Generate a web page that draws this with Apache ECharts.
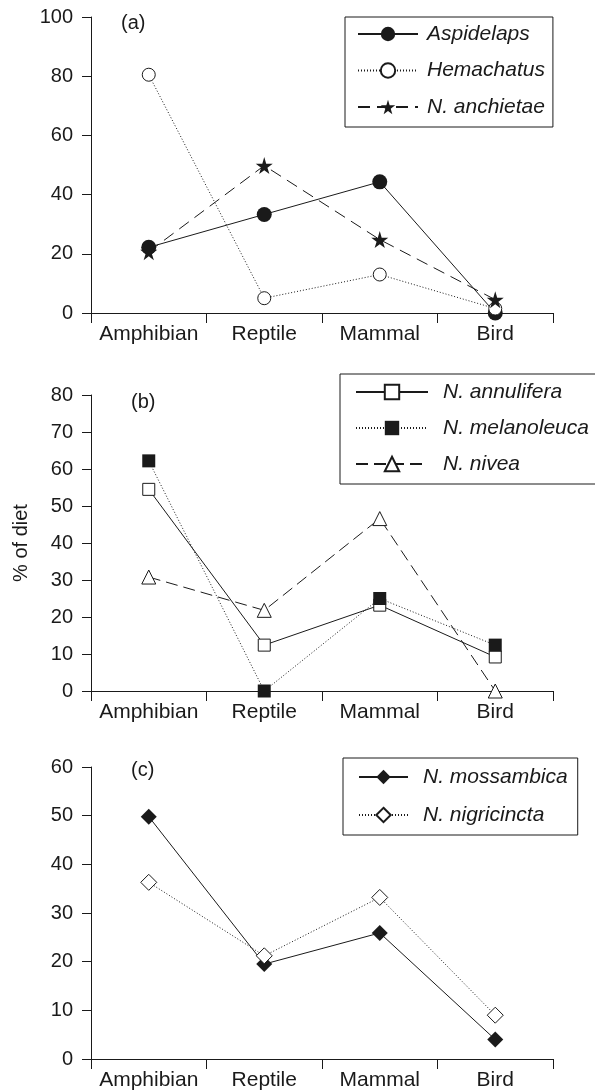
<!DOCTYPE html>
<html>
<head>
<meta charset="utf-8">
<script src="https://cdn.jsdelivr.net/npm/echarts@6/dist/echarts.min.js"></script>
<style>
  html, body { margin: 0; padding: 0; background: #fff; }
  #chart { width: 595px; height: 1091px; }
</style>
</head>
<body>
<div id="chart"></div>
<script>
// prey categories, shared by all three panels
const categories = ['Amphibian', 'Reptile', 'Mammal', 'Bird'];

// panel (a)
const aspidelaps = [22.2, 33.3, 44.3, 0];
const hemachatus = [80.5, 5, 13, 1.5];
const anchietae = [20.7, 49.8, 24.8, 4.5];

// panel (b)
const annulifera = [54.5, 12.4, 23.2, 9.2];
const melanoleuca = [62.2, 0, 25, 12.4];
const nivea = [30.8, 21.8, 46.6, 0];

// panel (c)
const mossambica = [49.8, 19.5, 25.9, 4];
const nigricincta = [36.3, 21.2, 33.2, 9];

// y axis ranges per panel
const yMax = [100, 80, 60];
const yStep = [20, 10, 10];

const ink = '#1a1a1a';
const font = 'Liberation Sans';
const star = 'path://M50,0 L61,35 L98,35 L68,57 L79,91 L50,70 L21,91 L32,57 L2,35 L39,35 Z';

const grids = [
    { left: 91, right: 42, top: 17, height: 296 },
    { left: 91, right: 42, top: 395, height: 296 },
    { left: 91, right: 42, top: 767, height: 293 }
];

function line(name, data, idx, symbol, size, filled, dash) {
    return {
        name: name,
        type: 'line',
        xAxisIndex: idx,
        yAxisIndex: idx,
        data: data,
        symbol: symbol,
        symbolSize: size,
        showAllSymbol: true,
        lineStyle: { color: ink, width: 1, type: dash },
        itemStyle: filled
            ? { color: ink, borderColor: ink, borderWidth: 0 }
            : { color: '#fff', borderColor: ink, borderWidth: 1 }
    };
}

// legend text shared by the three boxes
const legendText = { fontSize: 21, fontStyle: 'italic', color: ink, lineHeight: 21 };

let myChart = echarts.init(document.getElementById('chart'));
myChart.setOption({
    animation: false,
    backgroundColor: '#fff',
    textStyle: { fontFamily: font },
    title: ['(a)', '(b)', '(c)'].map((t, i) => ({
        text: t,
        left: i === 0 ? 121 : 131,
        top: [13, 392, 760][i],
        padding: 0,
        textStyle: { fontFamily: font, fontSize: 20, fontWeight: 'normal', color: ink }
    })),
    grid: grids,
    xAxis: grids.map((g, i) => ({
        type: 'category',
        gridIndex: i,
        data: categories,
        boundaryGap: true,
        axisLine: { lineStyle: { color: ink, width: 1 } },
        axisTick: { show: true, length: 10, inside: false, lineStyle: { color: ink } },
        axisLabel: { color: ink, fontSize: 21, margin: 11, fontFamily: font, interval: 0 },
        splitLine: { show: false }
    })),
    yAxis: grids.map((g, i) => ({
        type: 'value',
        gridIndex: i,
        min: 0,
        max: yMax[i],
        interval: yStep[i],
        name: i === 1 ? '% of diet' : '',
        nameLocation: 'middle',
        nameGap: 60,
        nameTextStyle: { color: ink, fontSize: 20, fontFamily: font },
        axisLine: { show: true, lineStyle: { color: ink, width: 1 } },
        axisTick: { show: true, length: 9, lineStyle: { color: ink } },
        axisLabel: { color: ink, fontSize: 20, margin: 18, fontFamily: font },
        splitLine: { show: false }
    })),
    legend: [
        {
            data: ['Aspidelaps', 'Hemachatus', 'N. anchietae'],
            orient: 'vertical',
            left: 345, top: 17,
            padding: [6.5, 8, 9.5, 12],
            itemGap: 15.5,
            itemWidth: 60, itemHeight: 18,
            borderColor: ink, borderWidth: 1,
            textStyle: Object.assign({ padding: [0, 0, 0, 4] }, legendText)
        },
        {
            data: ['N. annulifera', 'N. melanoleuca', 'N. nivea'],
            orient: 'vertical',
            left: 340, top: 374,
            padding: [7.5, 20, 9.5, 15],
            itemGap: 15,
            itemWidth: 72, itemHeight: 18,
            borderColor: ink, borderWidth: 1,
            textStyle: Object.assign({ padding: [0, 0, 0, 10] }, legendText)
        },
        {
            data: ['N. mossambica', 'N. nigricincta'],
            orient: 'vertical',
            left: 343, top: 758,
            padding: [8.5, 10, 9.5, 15],
            itemGap: 17,
            itemWidth: 49, itemHeight: 18,
            borderColor: ink, borderWidth: 1,
            textStyle: Object.assign({ padding: [0, 0, 0, 10] }, legendText)
        }
    ],
    series: [
        line('Aspidelaps', aspidelaps, 0, 'circle', 15, true, 'solid'),
        line('Hemachatus', hemachatus, 0, 'circle', 13, false, [1, 2]),
        line('N. anchietae', anchietae, 0, star, 17, true, [12, 7]),
        line('N. annulifera', annulifera, 1, 'rect', 12, false, 'solid'),
        line('N. melanoleuca', melanoleuca, 1, 'rect', 13, true, [1, 2]),
        line('N. nivea', nivea, 1, 'triangle', 14, false, [12, 6]),
        line('N. mossambica', mossambica, 2, 'diamond', 16, true, 'solid'),
        line('N. nigricincta', nigricincta, 2, 'diamond', 16, false, [1, 2])
    ]
});
</script>
</body>
</html>
